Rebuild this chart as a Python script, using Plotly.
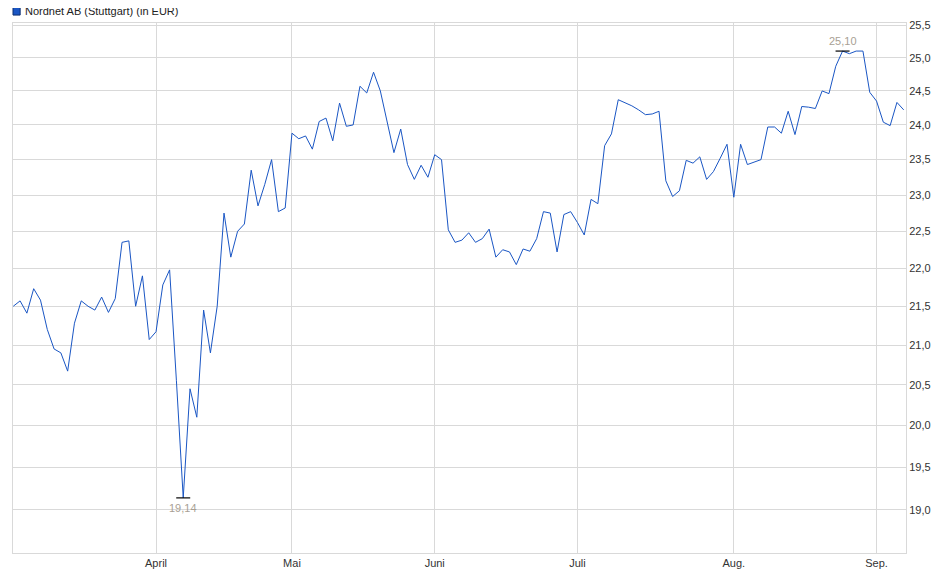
import math
import pandas as pd
import plotly.graph_objects as go

# trading days (Stuttgart), weekends and holidays skipped
holidays = ["2025-04-18", "2025-04-21", "2025-05-01"]
dates = pd.bdate_range("2025-03-03", "2025-09-05")
dates = dates[~dates.isin(pd.to_datetime(holidays))]

prices = [
    # March
    21.50, 21.57, 21.41, 21.73, 21.58, 21.20, 20.95, 20.90, 20.67, 21.28,
    21.57, 21.50, 21.45, 21.62, 21.42, 21.60, 22.35, 22.37, 21.50, 21.90,
    21.07,
    # April
    21.17, 21.78, 21.98, 20.55, 19.14, 20.45, 20.10, 21.45, 20.90, 21.50,
    22.75, 22.15, 22.50, 22.60, 23.35, 22.85, 23.15, 23.50, 22.77, 22.82,
    # May
    23.88, 23.80, 23.84, 23.65, 24.05, 24.10, 23.77, 24.32, 23.98, 24.00,
    24.57, 24.47, 24.78, 24.50, 24.05, 23.60, 23.94, 23.43, 23.22, 23.42,
    23.25,
    # June
    23.57, 23.50, 22.52, 22.35, 22.38, 22.48, 22.35, 22.40, 22.53, 22.15,
    22.25, 22.22, 22.05, 22.26, 22.23, 22.40, 22.77, 22.75, 22.22, 22.73,
    22.77,
    # July
    22.62, 22.45, 22.94, 22.88, 23.70, 23.87, 24.37, 24.33, 24.28, 24.22,
    24.15, 24.16, 24.20, 23.20, 22.98, 23.06, 23.49, 23.45, 23.54, 23.22,
    23.33, 23.52, 23.72,
    # August
    22.97, 23.72, 23.43, 23.47, 23.50, 23.97, 23.97, 23.88, 24.20, 23.86,
    24.27, 24.26, 24.24, 24.50, 24.46, 24.87, 25.10, 25.06, 25.10, 25.10,
    24.48,
    # September
    24.35, 24.04, 23.99, 24.33, 24.22,
]

month_ticks = ["2025-04-01", "2025-05-02", "2025-06-02", "2025-07-01", "2025-08-01", "2025-09-01"]
month_labels = ["April", "Mai", "Juni", "Juli", "Aug.", "Sep."]
y_ticks = [19.0, 19.5, 20.0, 20.5, 21.0, 21.5, 22.0, 22.5, 23.0, 23.5, 24.0, 24.5, 25.0, 25.5]

df = pd.DataFrame({"date": dates, "price": prices})
lo = df.loc[df.price.idxmin()]
hi = df.loc[df.price.idxmax()]

blue = "#1a56c4"
grid = "#d9d9d9"

fig = go.Figure()
fig.add_trace(go.Scatter(x=df.date, y=df.price, mode="lines",
                         line=dict(color=blue, width=1), showlegend=False,
                         hoverinfo="skip"))
# min / max marks
fig.add_trace(go.Scatter(x=[lo.date, hi.date], y=[lo.price, hi.price], mode="markers",
                         marker=dict(symbol="line-ew", size=10,
                                     line=dict(color="black", width=1.2)),
                         showlegend=False, hoverinfo="skip"))
# annotation y on log axis is log10
fig.add_annotation(x=lo.date, y=math.log10(lo.price), text=f"{lo.price:.2f}".replace(".", ","),
                   showarrow=False, yshift=-10, font=dict(color="#a89f94", size=11))
fig.add_annotation(x=hi.date, y=math.log10(hi.price), text=f"{hi.price:.2f}".replace(".", ","),
                   showarrow=False, yshift=10, font=dict(color="#a89f94", size=11))

# legend: square + title text
fig.add_shape(type="rect", xref="paper", yref="paper", x0=0.0, x1=0.008,
              y0=1.015, y1=1.03, fillcolor=blue, line=dict(color="#0d2f70", width=1))
fig.add_annotation(xref="paper", yref="paper", x=0.011, y=1.023, xanchor="left",
                   yanchor="middle", showarrow=False,
                   text="Nordnet AB (Stuttgart) (in EUR)",
                   font=dict(size=11, color="#222"))

fig.update_layout(
    width=940, height=579,
    margin=dict(l=5, r=42, t=15, b=34, autoexpand=False),
    paper_bgcolor="white", plot_bgcolor="white",
    font=dict(family="Liberation Sans, Arial, sans-serif", size=11, color="#333"),
    separators=",.",
    showlegend=False,
    xaxis=dict(
        range=["2025-03-02 23:00", "2025-09-05 08:00"],
        rangebreaks=[dict(bounds=["sat", "mon"]), dict(values=holidays)],
        tickvals=month_ticks, ticktext=month_labels,
        showgrid=True, gridcolor=grid, gridwidth=1,
        showline=True, linecolor=grid, mirror=True,
        ticks="", zeroline=False, tickfont=dict(size=11, color="#333"),
    ),
    yaxis=dict(
        type="log", side="right",
        range=[1.26742, 1.40707],
        tickvals=y_ticks, tickformat=".1f",
        showgrid=True, gridcolor=grid, gridwidth=1,
        showline=True, linecolor=grid, mirror=True,
        ticks="", zeroline=False, tickfont=dict(size=11, color="#333"),
    ),
)

fig.write_html("out.html")
